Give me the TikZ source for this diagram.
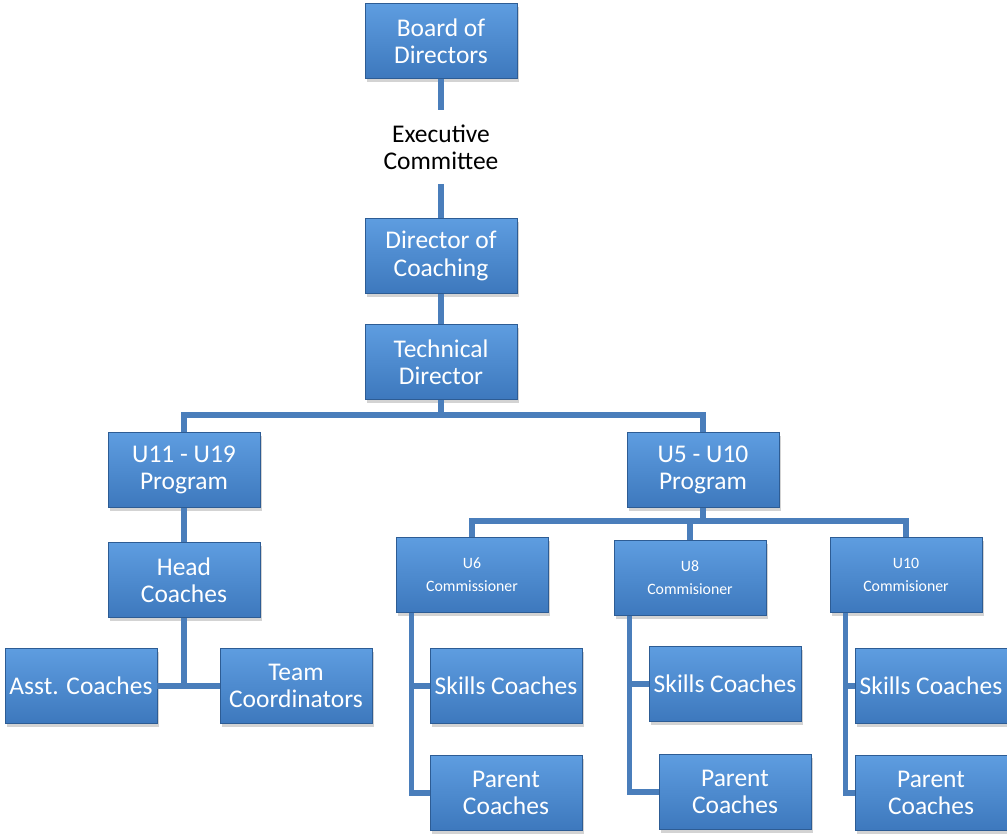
\documentclass[tikz,border=0pt]{standalone}
\usepackage{fontspec}
\setmainfont{Carlito}
\usetikzlibrary{shadows}
\definecolor{boxtop}{HTML}{5E9DE0}
\definecolor{boxbot}{HTML}{3D78BD}
\definecolor{boxedge}{HTML}{2D5C94}
\definecolor{linkblue}{HTML}{4A7EBB}

\begin{document}
\begin{tikzpicture}[x=0.02cm,y=-0.02cm]
	\tikzstyle{Box} = [rectangle, minimum width=3.04cm, minimum height=1.5cm, inner sep=0.5pt, align=center, draw=boxedge, top color=boxtop, bottom color=boxbot, text=white, font=\fontsize{14.5}{15.5}\selectfont, drop shadow={opacity=0.35, shadow xshift=1pt, shadow yshift=-2pt}]
	\tikzstyle{SmallBox} = [Box, font=\fontsize{9}{13}\selectfont]
	\tikzstyle{Plain} = [rectangle, minimum height=1.46cm, align=center, font=\fontsize{14.5}{15.5}\selectfont]
	\tikzstyle{link} = [line width=3pt, draw=linkblue]

	\useasboundingbox (0,0) rectangle (1007,833);

	\node (bod) [Box] at (441,41) {Board of\\Directors};
	\node (exec) [Plain] at (441,147) {Executive\\Committee};
	\node (doc) [Box] at (441,256) {Director of\\Coaching};
	\node (td) [Box] at (441,362) {Technical\\Director};
	\node (u11) [Box] at (184,470) {U11 - U19\\Program};
	\node (u5) [Box] at (703,470) {U5 - U10\\Program};
	\node (hc) [Box] at (184,580) {Head\\Coaches};
	\node (asst) [Box] at (81,686) {Asst. Coaches};
	\node (team) [Box] at (296,686) {Team\\Coordinators};
	\node (u6c) [SmallBox] at (472,575) {U6\\Commissioner};
	\node (u8c) [SmallBox] at (690,578) {U8\\Commisioner};
	\node (u10c) [SmallBox] at (906,575) {U10\\Commisioner};
	\node (u6s) [Box] at (506,686) {Skills Coaches};
	\node (u6p) [Box] at (506,793) {Parent\\Coaches};
	\node (u8s) [Box] at (725,684) {Skills Coaches};
	\node (u8p) [Box] at (735,792) {Parent\\Coaches};
	\node (u10s) [Box] at (931,686) {Skills Coaches};
	\node (u10p) [Box] at (931,793) {Parent\\Coaches};

	\coordinate (tdsplit) at (441,415);
	\coordinate (hcsplit) at (184,686);
	\coordinate (u5split) at (703,521);

	\draw [link] (bod) -- (exec);
	\draw [link] (exec) -- (doc);
	\draw [link] (doc) -- (td);
	\draw [link] (td) -- (tdsplit) -| (u11);
	\draw [link] (tdsplit) -| (u5);
	\draw [link] (u11) -- (hc);
	\draw [link] (hc) -- (hcsplit);
	\draw [link] (asst) -- (team);
	\draw [link] (u5) -- (u5split) -| (u6c);
	\draw [link] (u5split) -| (u8c);
	\draw [link] (u5split) -| (u10c);
	\draw [link] ([xshift=0.32cm]u6c.south west) |- (u6s);
	\draw [link] ([xshift=0.32cm]u6c.south west) |- (u6p);
	\draw [link] ([xshift=0.32cm]u8c.south west) |- (u8s);
	\draw [link] ([xshift=0.32cm]u8c.south west) |- (u8p);
	\draw [link] ([xshift=0.32cm]u10c.south west) |- (u10s);
	\draw [link] ([xshift=0.32cm]u10c.south west) |- (u10p);
\end{tikzpicture}
\end{document}
